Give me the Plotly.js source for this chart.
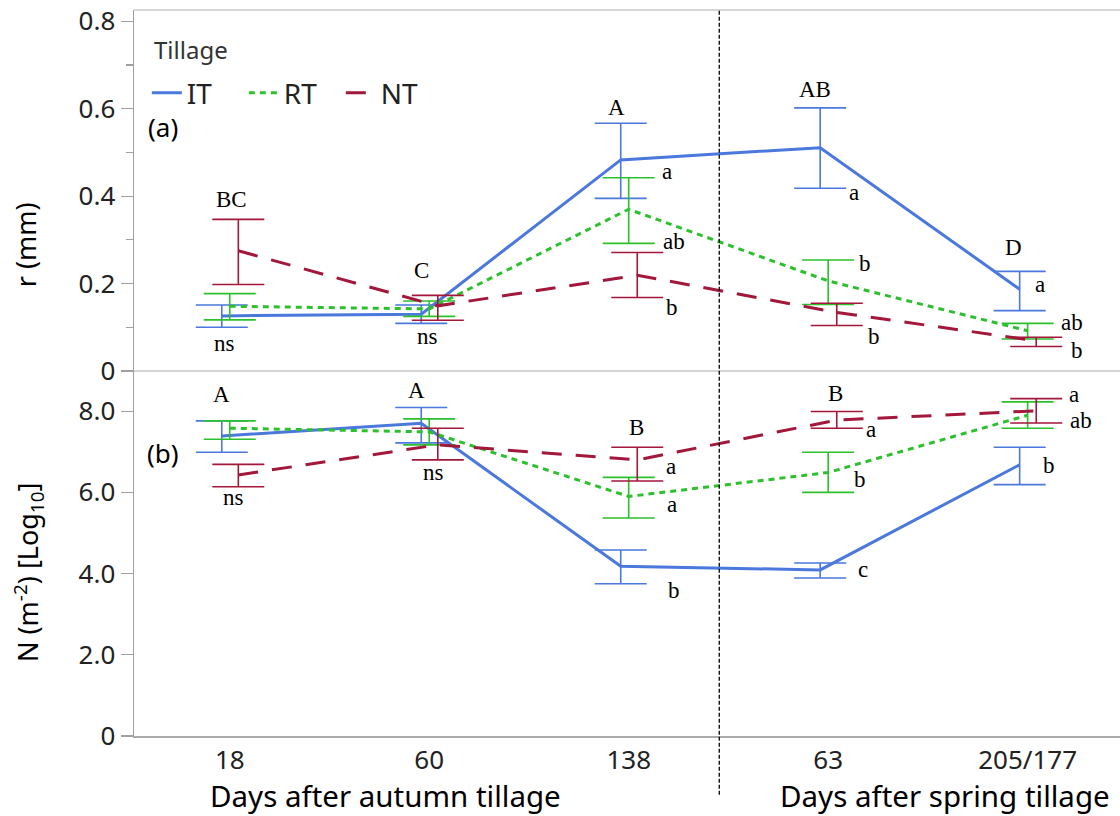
<!DOCTYPE html>
<html><head><meta charset="utf-8">
<script src="https://cdn.plot.ly/plotly-3.0.1.min.js"></script>
<style>html,body{margin:0;padding:0;background:#fff}</style>
</head><body>
<div id="chart" style="width:1120px;height:816px"></div>
<script>
// ---------- data ----------
const categories = ['18', '60', '138', '63', '205/177'];
const catIndex = [0, 1, 2, 3, 4];
const seriesNames = ['IT', 'RT', 'NT'];

// (a) r (mm): mean, upper, lower
const rIT   = [0.126, 0.130, 0.483, 0.511, 0.187];
const rIThi = [0.151, 0.151, 0.567, 0.602, 0.228];
const rITlo = [0.100, 0.109, 0.395, 0.418, 0.138];
const rRT   = [0.148, 0.142, 0.370, 0.206, 0.092];
const rRThi = [0.177, 0.160, 0.442, 0.254, 0.109];
const rRTlo = [0.117, 0.125, 0.292, 0.152, 0.073];
const rNT   = [0.275, 0.149, 0.219, 0.134, 0.069];
const rNThi = [0.347, 0.173, 0.271, 0.155, 0.077];
const rNTlo = [0.198, 0.116, 0.168, 0.104, 0.056];

// (b) N (m-2) [Log10]: mean, upper, lower
const nIT   = [7.39, 7.70, 4.18, 4.09, 6.68];
const nIThi = [7.76, 8.09, 4.58, 4.26, 7.11];
const nITlo = [6.99, 7.22, 3.75, 3.89, 6.19];
const nRT   = [7.58, 7.49, 5.90, 6.49, 7.90];
const nRThi = [7.76, 7.81, 6.37, 6.99, 8.23];
const nRTlo = [7.31, 7.17, 5.37, 6.00, 7.58];
const nNT   = [6.43, 7.17, 6.80, 7.78, 8.01];
const nNThi = [6.69, 7.58, 7.11, 7.99, 8.31];
const nNTlo = [6.14, 6.80, 6.28, 7.58, 7.71];

// significance letters (text, anchor category position, anchor value)
const rLetters = ['BC', 'ns', 'C', 'ns', 'A', 'a', 'ab', 'b', 'AB', 'a', 'b', 'b', 'D', 'a', 'ab', 'b'];
const rLetterX = [0.01, -0.025, 0.96, 0.993, 1.938, 2.19, 2.228, 2.219, 2.936, 3.127, 3.187, 3.228, 3.93, 4.064, 4.22, 4.248];
const rLetterY = [0.393, 0.062, 0.231, 0.080, 0.603, 0.457, 0.297, 0.146, 0.645, 0.409, 0.245, 0.080, 0.283, 0.197, 0.112, 0.046];
const nLetters = ['A', 'ns', 'A', 'ns', 'B', 'a', 'a', 'b', 'B', 'a', 'b', 'c', 'a', 'ab', 'b'];
const nLetterX = [-0.04, 0.02, 0.938, 1.023, 2.04, 2.21, 2.219, 2.228, 3.038, 3.217, 3.16, 3.174, 4.234, 4.266, 4.109];
const nLetterY = [8.40, 5.87, 8.50, 6.49, 7.60, 6.63, 5.69, 3.59, 8.44, 7.55, 6.32, 4.11, 8.42, 7.78, 6.65];

// ---------- styling ----------
const colors = {IT: '#4a78dc', RT: '#2cc02c', NT: '#a3173b'};
const dashes = {IT: 'solid', RT: '6px,5px', NT: '20px,14px'};
const offsets = {IT: -0.04, RT: 0, NT: 0.043};
const rData = {IT: [rIT, rIThi, rITlo], RT: [rRT, rRThi, rRTlo], NT: [rNT, rNThi, rNTlo]};
const nData = {IT: [nIT, nIThi, nITlo], RT: [nRT, nRThi, nRTlo], NT: [nNT, nNThi, nNTlo]};

const sansFont = '"Noto Sans", "Open Sans", sans-serif';
const serifFont = '"Liberation Serif", "DejaVu Serif", serif';

function mkTrace(name, d, yaxis, showLegend) {
  const [m, hi, lo] = d;
  return {
    type: 'scatter', mode: 'lines', name: name,
    legendgroup: name, showlegend: showLegend,
    x: catIndex.map(i => i + offsets[name]),
    y: m, yaxis: yaxis, xaxis: 'x',
    line: {color: colors[name], width: 3, dash: dashes[name]},
    error_y: {
      type: 'data', symmetric: false,
      array: hi.map((v, i) => v - m[i]),
      arrayminus: lo.map((v, i) => m[i] - v),
      color: colors[name], thickness: 1.6, width: 26
    },
    hoverinfo: 'skip'
  };
}

const traces = [];
seriesNames.forEach(s => traces.push(mkTrace(s, rData[s], 'y2', true)));
seriesNames.forEach(s => traces.push(mkTrace(s, nData[s], 'y', false)));

const annotations = [];
rLetters.forEach((t, i) => annotations.push({
  text: t, x: rLetterX[i], y: rLetterY[i], xref: 'x', yref: 'y2',
  showarrow: false, xanchor: 'center', yanchor: 'middle',
  font: {family: serifFont, size: 23, color: '#000'}
}));
nLetters.forEach((t, i) => annotations.push({
  text: t, x: nLetterX[i], y: nLetterY[i], xref: 'x', yref: 'y',
  showarrow: false, xanchor: 'center', yanchor: 'middle',
  font: {family: serifFont, size: 23, color: '#000'}
}));
const txt = (text, x, y, size, angle, anchor, color) => ({
  text: text, x: x, y: y, xref: 'paper', yref: 'paper', showarrow: false,
  xanchor: anchor || 'center', yanchor: 'middle', textangle: angle || 0,
  font: {family: sansFont, size: size, color: color || '#000'}
});
annotations.push(txt('Tillage', 0.018, 0.945, 24, 0, 'left', '#333'));
annotations.push(txt('(a)', 0.0294, 0.839, 26));
annotations.push(txt('(b)', 0.0294, 0.390, 26));
annotations.push(txt('r (mm)', -0.1105, 0.676, 27, -90));
annotations.push(txt('N (m<sup>-2</sup>) [Log<sub>10</sub>]', -0.1075, 0.2245, 27, -90));
annotations.push(txt('Days after autumn tillage', 0.2546, -0.082, 29.5));
annotations.push(txt('Days after spring tillage', 0.8225, -0.082, 29.5));

const split = 0.5028;
const axisGray = '#a0a0a0';
const layout = {
  width: 1120, height: 816,
  margin: {l: 134, r: 0, t: 10, b: 80},
  paper_bgcolor: '#fff', plot_bgcolor: '#fff',
  font: {family: sansFont, color: '#222'},
  showlegend: true,
  legend: {
    orientation: 'h', x: 0.013, y: 0.92, xanchor: 'left', yanchor: 'top',
    bgcolor: 'rgba(0,0,0,0)', entrywidth: 52,
    font: {size: 28, color: '#222'}
  },
  xaxis: {
    type: 'linear', range: [-0.48, 4.463], anchor: 'y',
    tickvals: catIndex, ticktext: categories,
    ticks: '', showgrid: false, zeroline: false,
    showline: true, linecolor: '#aaa', linewidth: 1.5,
    tickfont: {size: 26, color: '#222'}
  },
  yaxis: {
    domain: [0, split], range: [0, 8.99],
    tickvals: [0, 2, 4, 6, 8], ticktext: ['0', '2.0', '4.0', '6.0', '8.0'],
    ticks: 'outside', ticklen: 12, tickcolor: axisGray, tickwidth: 1.2,
    showline: true, linecolor: axisGray, linewidth: 1.5,
    showgrid: false, zeroline: false,
    tickfont: {size: 26, color: '#222'}
  },
  yaxis2: {
    domain: [split, 1], range: [0, 0.826], anchor: 'x',
    tickvals: [0, 0.2, 0.4, 0.6, 0.8], ticktext: ['0', '0.2', '0.4', '0.6', '0.8'],
    ticks: 'outside', ticklen: 12, tickcolor: axisGray, tickwidth: 1.2,
    minor: {tickvals: [0.1, 0.3, 0.5, 0.7], ticks: 'outside', ticklen: 7, tickcolor: axisGray, tickwidth: 1.2},
    showline: true, linecolor: axisGray, linewidth: 1.5,
    showgrid: false, zeroline: false,
    tickfont: {size: 26, color: '#222'}
  },
  shapes: [
    {type: 'line', xref: 'paper', yref: 'paper', x0: 0, x1: 1, y0: 1, y1: 1, line: {color: '#c8c8c8', width: 1.5}},
    {type: 'line', xref: 'paper', yref: 'paper', x0: 0, x1: 1, y0: split, y1: split, line: {color: '#d4d4d4', width: 2}},
    {type: 'line', xref: 'x', yref: 'paper', x0: 2.454, x1: 2.454, y0: -0.081, y1: 1, line: {color: '#000', width: 1.3, dash: '4px,2px'}}
  ],
  annotations: annotations
};

Plotly.newPlot('chart', traces, layout, {displayModeBar: false, staticPlot: true});
</script>
</body></html>
